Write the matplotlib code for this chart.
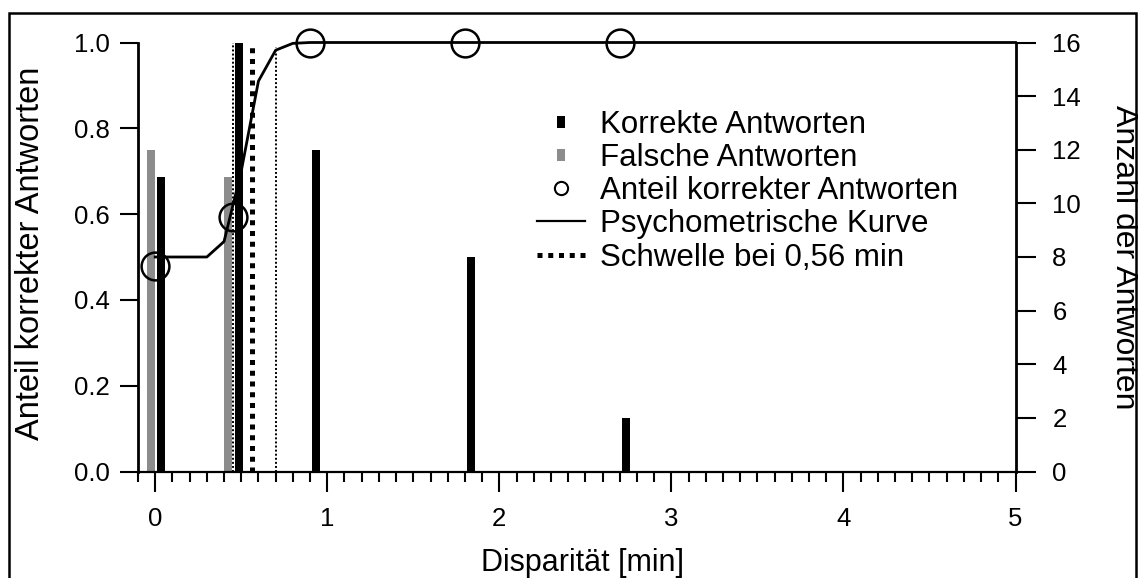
import matplotlib
matplotlib.use("Agg")
import matplotlib.pyplot as plt
from matplotlib.lines import Line2D
from matplotlib.patches import Rectangle

plt.rcParams['font.family'] = ['Liberation Sans', 'DejaVu Sans']

# Disparities tested (min of arc) and response counts per disparity
disparity = [0.0, 0.45, 0.9, 1.8, 2.7]
n_correct = [11, 16, 12, 8, 2]
n_wrong = [12, 11, 0, 0, 0]
prop_correct = [11 / 23, 16 / 27, 1.0, 1.0, 1.0]

# Fitted psychometric curve
psy_x = [0.0, 0.1, 0.2, 0.3, 0.4, 0.5, 0.6, 0.7, 0.8, 0.9, 5.0]
psy_y = [0.50, 0.50, 0.50, 0.50, 0.536, 0.70, 0.91, 0.982, 0.998, 1.0, 1.0]

threshold = 0.56
conf_low, conf_high = 0.45, 0.70
conf_high_top = 0.99

W, H = 1138, 578
fig = plt.figure(figsize=(W / 100, H / 100), dpi=100)
left, right = 138 / W, 1015.5 / W
bottom, top = 1 - 471.5 / H, 1 - 42.5 / H
ax = fig.add_axes([left, bottom, right - left, top - bottom])
ax2 = ax.twinx()

bar_w = 0.045
ax2.bar([d - 0.025 for d in disparity], n_wrong, width=bar_w, color='#8c8c8c', linewidth=0)
ax2.bar([d + 0.035 for d in disparity], n_correct, width=bar_w, color='black', linewidth=0)

ax.set_zorder(ax2.get_zorder() + 1)
ax.patch.set_visible(False)

# Threshold and confidence markers
ax.plot([conf_low, conf_low], [0, 1], color='black', lw=1.4, dashes=(1, 1.1))
ax.plot([conf_high, conf_high], [0, conf_high_top], color='black', lw=1.4, dashes=(1, 1.1))
ax.plot([threshold, threshold], [0, 1], color='black', lw=3.6, dashes=(1, 1.15))

ax.plot(psy_x, psy_y, color='black', lw=2.0, clip_on=False)
ax.plot(disparity, prop_correct, linestyle='none', marker='o', ms=20, mfc='none',
        mec='black', mew=1.8, clip_on=False)

ax.set_xlim(-0.1, 5.0)
ax.set_ylim(0, 1)
ax2.set_ylim(0, 16)

for a in (ax, ax2):
    a.spines['top'].set_visible(False)
ax.spines['right'].set_visible(False)
ax2.spines['left'].set_visible(False)
ax2.spines['bottom'].set_visible(False)
ax.spines['left'].set_linewidth(2.0)
ax.spines['bottom'].set_linewidth(1.6)
ax2.spines['right'].set_linewidth(2.0)

ax.set_xticks([0, 1, 2, 3, 4, 5])
ax.set_xticks([i / 10 for i in range(-1, 51)], minor=True)
ax.set_yticks([0.0, 0.2, 0.4, 0.6, 0.8, 1.0])
ax.set_yticklabels(['0.0', '0.2', '0.4', '0.6', '0.8', '1.0'])
ax2.set_yticks(range(0, 17, 2))

ax.tick_params(axis='x', which='major', direction='out', length=14.5, width=1.5,
               labelsize=18.5, pad=11)
ax.tick_params(axis='x', which='minor', direction='out', length=7.5, width=1.5)
ax.tick_params(axis='y', which='major', direction='out', length=13, width=1.5,
               labelsize=18.5, pad=7)
ax2.tick_params(axis='y', which='major', direction='out', length=14.5, width=1.5,
                labelsize=18.5, pad=12)

ax.set_xlabel('Disparität [min]', fontsize=22)
ax.xaxis.set_label_coords(0.5 + 6 / 877.5, -76 / 429)
ax.set_ylabel('Anteil korrekter Antworten', fontsize=23.5)
ax.yaxis.set_label_coords(-92 / 877.5, 0.5 + 4 / 429)
ax2.set_ylabel('Anzahl der Antworten', fontsize=23, rotation=-90, va='bottom')
ax2.yaxis.set_label_coords(1 + 93 / 877.5, 0.5)

# Legend
bar_marker = [(-0.32, -0.5), (0.32, -0.5), (0.32, 0.5), (-0.32, 0.5), (-0.32, -0.5)]
handles = [
    Line2D([], [], linestyle='none', marker=bar_marker, ms=8, color='black', mew=0),
    Line2D([], [], linestyle='none', marker=bar_marker, ms=8, color='#8c8c8c', mew=0),
    Line2D([], [], linestyle='none', marker='o', ms=9.5, mfc='none', mec='black', mew=1.5),
    Line2D([], [], color='black', lw=1.6),
    Line2D([], [], color='black', lw=3.6, dashes=(1, 1.15)),
]
labels = ['Korrekte Antworten', 'Falsche Antworten', 'Anteil korrekter Antworten',
          'Psychometrische Kurve', 'Schwelle bei 0,56 min']
fig.legend(handles, labels, loc='upper left', bbox_to_anchor=(537 / W, 1 - 110 / H),
           frameon=False, fontsize=22.5, borderpad=0, borderaxespad=0,
           handlelength=1.55, handletextpad=0.48, labelspacing=0.1)

# Figure frame
fig.patches.append(Rectangle((9 / W, -0.1), (1136 - 9) / W, 1.1 - 13.5 / H,
                             transform=fig.transFigure, fill=False,
                             edgecolor='black', lw=1.8, clip_on=False))

fig.savefig('out.png', dpi=100)
